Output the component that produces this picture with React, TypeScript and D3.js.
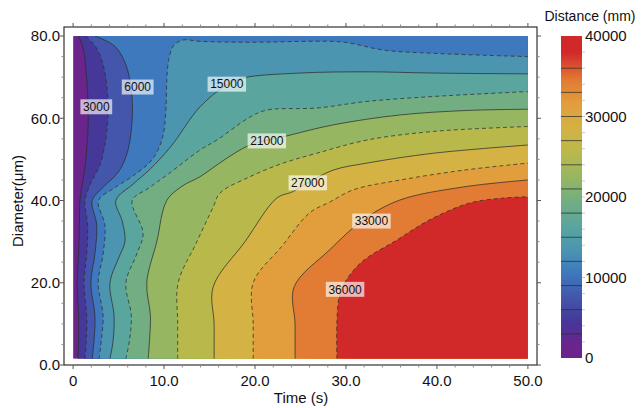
import * as d3 from "d3";

type Pt = [number, number];

// contour levels (mm) and band colours (below first level ... above last level)
const levels = [3000, 6000, 9000, 12000, 15000, 18000, 21000, 24000, 27000, 30000, 33000, 36000];
const bandColors = [
  "#6b248b", "#453899", "#4356ab", "#3e78bd", "#4c95b1", "#5aa59e", "#73ae82",
  "#97b661", "#b9b94b", "#d4b244", "#e29e3c", "#e27b33", "#d1282a",
];

// contour lines: [time (s), diameter (µm)]
const c3000: Pt[] = [[0.55, 1.5], [0.6, 6], [0.6, 12], [0.45, 20], [0.6, 27], [0.7, 34], [0.75, 40], [1.1, 45], [1.4, 50], [1.65, 58], [1.6, 66], [1.4, 72], [1.2, 76], [0.8, 79], [0.55, 80]];
const c6000: Pt[] = [[1.3, 1.5], [1.45, 6], [1.5, 12], [1.2, 20], [1.5, 27], [1.6, 34], [1.3, 40], [1.9, 44], [3.0, 49], [3.6, 55], [3.85, 62], [3.7, 68], [3.3, 73], [2.6, 77], [1.4, 80]];
const c9000: Pt[] = [[2.1, 1.5], [2.3, 6], [2.4, 12], [1.95, 20], [2.4, 27], [2.6, 34], [2.1, 40], [3.2, 43], [5.0, 47], [6.0, 52], [6.5, 60], [6.4, 67], [5.8, 73], [4.6, 77.5], [2.4, 80]];
const c12000: Pt[] = [[2.85, 1.5], [3.1, 6], [3.3, 12], [2.75, 20], [3.3, 27], [3.5, 34], [2.8, 40], [4.5, 43], [6.6, 46], [8.7, 50], [9.8, 55], [10.2, 62], [10.3, 69], [10.5, 74], [11.0, 77.5], [12.0, 79.0], [14, 78.7], [19.45, 78.5], [28.6, 78.7], [30.4, 78.3], [34.1, 76.6], [39.6, 75.8], [50, 75]];
const c15000: Pt[] = [[4.05, 1.5], [4.4, 6], [4.5, 12], [4.05, 20], [5.0, 26], [5.7, 30], [5.4, 35], [4.7, 40], [6.6, 44], [8.4, 47.5], [10.7, 53], [13.96, 62.8], [16.9, 68.1], [18.7, 69.8], [24.9, 71], [32.3, 71.3], [39.6, 71], [50, 70.8]];
const c18000: Pt[] = [[5.8, 1.5], [6.2, 6], [6.4, 12], [5.8, 20], [7.0, 27], [7.7, 32], [6.5, 40], [8.3, 43], [10.5, 46.5], [13.96, 52.3], [15.8, 54.7], [19.45, 60.3], [21.3, 62], [26.8, 62.5], [32.3, 64.1], [39.6, 65.3], [50, 66.5]];
const c21000: Pt[] = [[8.25, 1.5], [8.4, 6], [8.5, 12], [8.1, 20], [9.2, 30], [10.3, 40], [12, 43.5], [13.96, 45.8], [16.7, 50], [19.45, 53.5], [23.1, 55.5], [28.6, 58.4], [35.9, 60.8], [43.3, 61.9], [50, 62.2]];
const c24000: Pt[] = [[11.5, 1.5], [11.5, 10], [11.55, 20], [13.5, 29.5], [15.4, 38.4], [16.15, 41.8], [19.45, 45.8], [23.1, 49.1], [26.8, 51.5], [32.3, 54.7], [39.6, 56.8], [50, 58]];
const c27000: Pt[] = [[15.5, 1.5], [15.5, 10], [15.4, 19], [18.9, 30], [22.4, 40.6], [24.1, 42.1], [25.8, 44.3], [28.6, 47.4], [32.3, 49.1], [39.6, 51.5], [50, 53.5]];
const c30000: Pt[] = [[19.8, 1.5], [19.8, 10], [19.8, 20], [23, 29], [26.0, 37], [28.2, 39.6], [30.8, 42.6], [36, 45], [43, 47.4], [50, 49.1]];
const c33000: Pt[] = [[24.4, 1.5], [24.4, 10], [24.3, 19], [28.2, 28], [31.9, 35.3], [35.9, 40.1], [42.9, 43.3], [50, 45]];
const c36000: Pt[] = [[29.0, 1.5], [29.0, 10], [29.2, 16], [29.6, 19], [31.6, 24.8], [35.6, 30.4], [39.2, 35.3], [43.6, 39.4], [47.3, 40.6], [50, 40.9]];
const contourLines = [c3000, c6000, c9000, c12000, c15000, c18000, c21000, c24000, c27000, c30000, c33000, c36000];

// contour labels
const labelTexts = ["3000", "6000", "15000", "21000", "27000", "33000", "36000"];
const labelT = [2.55, 7.1, 16.9, 21.3, 25.8, 32.8, 29.9];
const labelD = [62.8, 67.6, 68.3, 54.5, 44.3, 35.0, 18.4];

const xTicks = [0, 10, 20, 30, 40, 50];
const xTickLabels = ["0", "10.0", "20.0", "30.0", "40.0", "50.0"];
const yTicks = [0, 20, 40, 60, 80];
const yTickLabels = ["0.0", "20.0", "40.0", "60.0", "80.0"];
const cbTicks = [0, 10000, 20000, 30000, 40000];
const cbTickLabels = ["0", "10000", "20000", "30000", "40000"];

const FONT = "'Liberation Sans', Arial, sans-serif";

export default function App() {
  const W = 641, H = 408;
  const T1 = 50, D0 = 1.5, D1 = 80;
  const x = d3.scaleLinear().domain([-1, 51]).range([64, 537]);
  const y = d3.scaleLinear().domain([0, 82.2]).range([365, 27]);
  const cb = d3.scaleLinear().domain([0, 40000]).range([358, 36]);

  const line = d3.line<Pt>().x((d) => x(d[0])).y((d) => y(d[1])).curve(d3.curveCatmullRom.alpha(0.5));
  const fillPath = (pts: Pt[]) => {
    const last = pts[pts.length - 1];
    let p = line(pts) as string;
    if (last[1] >= D1 - 0.01) p += `L${x(T1) + 2},${y(D1) - 2}`;
    p += `L${x(T1) + 2},${y(D0) + 2}Z`;
    return p;
  };

  const xMinor = d3.range(0, 51, 2).filter((v) => v % 10 !== 0);
  const yMinor = d3.range(0, 81, 5).filter((v) => v % 20 !== 0);
  const frame = { l: 64, r: 537, t: 27, b: 365 };

  // colorbar gradient: band colours at band centres
  const bounds = [0, ...levels, 40000];
  const stops = bandColors.map((c, i) => ({ off: ((bounds[i] + bounds[i + 1]) / 2) / 40000, c }));

  return (
    <svg width={W} height={H} style={{ position: "absolute", left: 0, top: 0, background: "#fff" }} fontFamily={FONT}>
      <defs>
        <clipPath id="plotClip">
          <rect x={x(0)} y={y(D1)} width={x(T1) - x(0)} height={y(D0) - y(D1)} />
        </clipPath>
        <linearGradient id="cbGrad" x1="0" y1="1" x2="0" y2="0">
          {stops.map((s, i) => (
            <stop key={i} offset={s.off} stopColor={s.c} />
          ))}
        </linearGradient>
      </defs>

      {/* filled bands */}
      <g clipPath="url(#plotClip)">
        <rect x={x(0)} y={y(D1)} width={x(T1) - x(0)} height={y(D0) - y(D1)} fill={bandColors[0]} />
        {contourLines.map((pts, i) => (
          <path key={"f" + i} d={fillPath(pts)} fill={bandColors[i + 1]} />
        ))}
        {contourLines.map((pts, i) => (
          <path
            key={"l" + i}
            d={line(pts) as string}
            fill="none"
            stroke="#2e2e2e"
            strokeOpacity={0.75}
            strokeWidth={1}
            strokeDasharray={i % 2 === 1 ? "4,3" : undefined}
          />
        ))}
      </g>

      {/* contour labels */}
      {labelTexts.map((t, i) => {
        const w = t.length * 6.7 + 5;
        const cx = x(labelT[i]);
        const cy = y(labelD[i]);
        return (
          <g key={"lab" + i}>
            <rect x={cx - w / 2} y={cy - 7.5} width={w} height={15} fill="#fff" fillOpacity={0.65} />
            <text x={cx} y={cy} dy="0.36em" textAnchor="middle" fontSize={12} fill="#111">{t}</text>
          </g>
        );
      })}

      {/* frame */}
      <rect x={frame.l} y={frame.t} width={frame.r - frame.l} height={frame.b - frame.t} fill="none" stroke="#333" strokeWidth={1.2} />

      {/* x ticks */}
      {xTicks.map((v, i) => (
        <g key={"xt" + i}>
          <line x1={x(v)} x2={x(v)} y1={frame.b} y2={frame.b + 4} stroke="#555" />
          <line x1={x(v)} x2={x(v)} y1={frame.t} y2={frame.t - 4} stroke="#555" />
          <text x={x(v)} y={386} textAnchor="middle" fontSize={15} fill="#111">{xTickLabels[i]}</text>
        </g>
      ))}
      {xMinor.map((v) => (
        <g key={"xm" + v}>
          <line x1={x(v)} x2={x(v)} y1={frame.b} y2={frame.b + 2.5} stroke="#888" />
          <line x1={x(v)} x2={x(v)} y1={frame.t} y2={frame.t - 2.5} stroke="#888" />
        </g>
      ))}

      {/* y ticks */}
      {yTicks.map((v, i) => (
        <g key={"yt" + i}>
          <line x1={frame.l} x2={frame.l - 4} y1={y(v)} y2={y(v)} stroke="#555" />
          <line x1={frame.r} x2={frame.r + 4} y1={y(v)} y2={y(v)} stroke="#555" />
          <text x={60} y={y(v)} dy="0.36em" textAnchor="end" fontSize={15} fill="#111">{yTickLabels[i]}</text>
        </g>
      ))}
      {yMinor.map((v) => (
        <g key={"ym" + v}>
          <line x1={frame.l} x2={frame.l - 2.5} y1={y(v)} y2={y(v)} stroke="#888" />
          <line x1={frame.r} x2={frame.r + 2.5} y1={y(v)} y2={y(v)} stroke="#888" />
        </g>
      ))}

      {/* axis titles */}
      <text x={301} y={403} textAnchor="middle" fontSize={15} fill="#111">Time (s)</text>
      <text transform={`translate(18,${201}) rotate(-90)`} textAnchor="middle" dy="0.36em" fontSize={15} fill="#111">
        Diameter(μm)
      </text>

      {/* colorbar */}
      <rect x={561} y={cb(40000)} width={21} height={cb(0) - cb(40000)} fill="url(#cbGrad)" />
      {levels.map((v) => (
        <line key={"cl" + v} x1={561} x2={582} y1={cb(v)} y2={cb(v)} stroke="#2e2e2e" strokeOpacity={0.75} />
      ))}
      {d3.range(2000, 40000, 2000).map((v) => (
        <line key={"cm" + v} x1={582} x2={585} y1={cb(v)} y2={cb(v)} stroke="#ccc" />
      ))}
      {cbTicks.map((v, i) => (
        <text key={"ct" + i} x={585} y={cb(v)} dy="0.36em" fontSize={15} fill="#111">{cbTickLabels[i]}</text>
      ))}
      <text x={590} y={21} textAnchor="middle" fontSize={14} fill="#111">Distance (mm)</text>
    </svg>
  );
}
